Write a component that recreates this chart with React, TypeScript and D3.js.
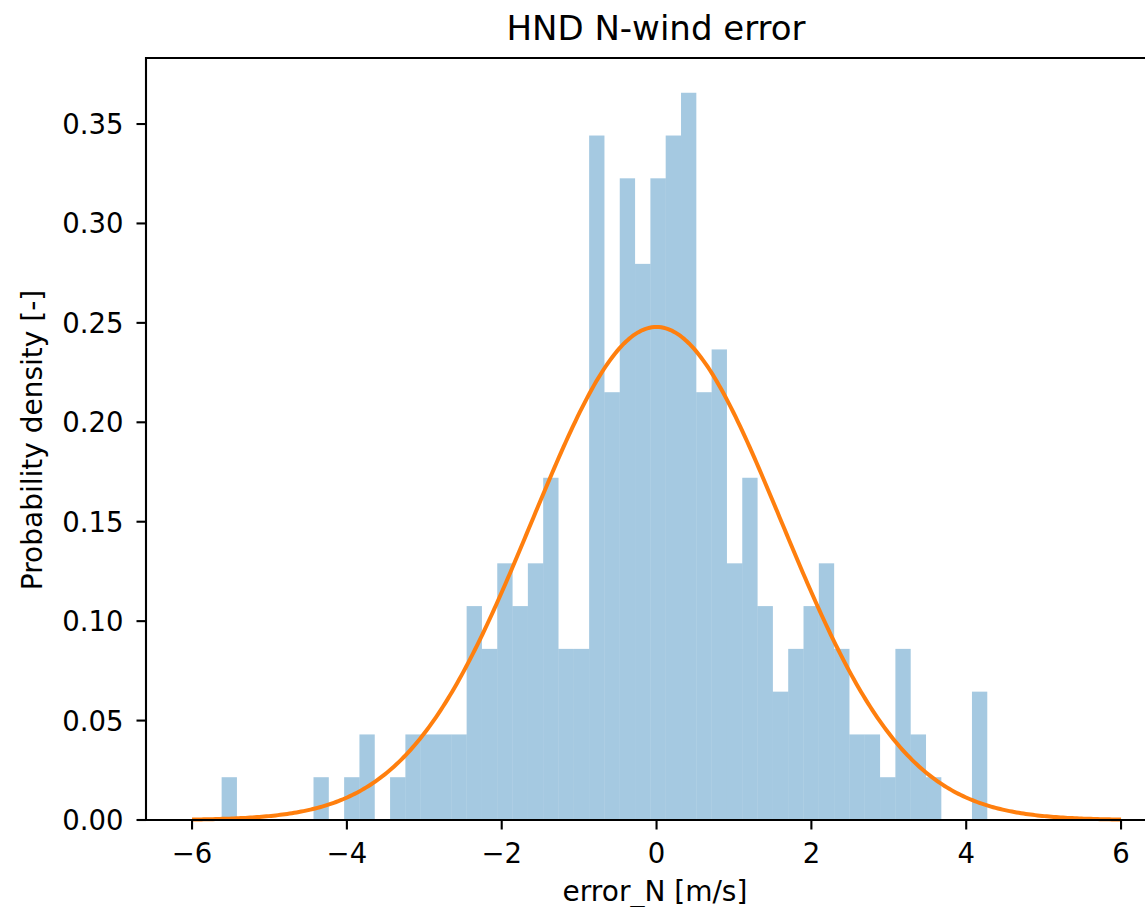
import React from "react";
import * as d3 from "d3";

// ---- data ----
const binStart = -5.618; // left edge of first bin [m/s]
const binWidth = 0.1978; // bin width [m/s]
const binCounts = [
  1, 0, 0, 0, 0, 0, 1, 0, 1, 2,
  0, 1, 2, 2, 2, 2, 5, 4, 6, 5,
  6, 8, 4, 4, 16, 10, 15, 13, 15, 16,
  17, 10, 11, 6, 8, 5, 3, 4, 5, 6,
  4, 2, 2, 1, 4, 2, 1, 0, 0, 3,
];
const fitMean = 0.0;
const fitStd = 1.609;
const curveRange = [-6, 6];
const xTicks = [-6, -4, -2, 0, 2, 4, 6];
const yTicks = [0, 0.05, 0.1, 0.15, 0.2, 0.25, 0.3, 0.35];
const title = "HND N-wind error";
const xLabel = "error_N [m/s]";
const yLabel = "Probability density [-]";

const W = 1145;
const H = 907;
const FONT = "'DejaVu Sans', sans-serif";

export default function App() {
  const x = d3.scaleLinear().domain([-6.6, 6.6]).range([145.6, 1167.5]);
  const y = d3.scaleLinear().domain([0, 0.3832]).range([820, 58]);

  const total = d3.sum(binCounts);
  const bins = binCounts.map((c, i) => ({
    x0: binStart + i * binWidth,
    x1: binStart + (i + 1) * binWidth,
    d: c / (total * binWidth),
  }));

  const nSamples = 400;
  const curvePts = d3.range(nSamples + 1).map((i) => {
    const xv = curveRange[0] + ((curveRange[1] - curveRange[0]) * i) / nSamples;
    const z = (xv - fitMean) / fitStd;
    return [xv, Math.exp(-0.5 * z * z) / (fitStd * Math.sqrt(2 * Math.PI))] as [number, number];
  });
  const line = d3
    .line<[number, number]>()
    .x((d) => x(d[0]))
    .y((d) => y(d[1]));

  const fmtY = d3.format(".2f");
  const fmtX = (v: number) => (v < 0 ? "\u2212" + Math.abs(v) : String(v));

  const left = 146;
  const top = 58;
  const bottom = 820;

  return (
    <svg
      width={W}
      height={H}
      style={{ position: "absolute", left: 0, top: 0, background: "#fff" }}
      fontFamily={FONT}
    >
      <rect x={0} y={0} width={W} height={H} fill="#fff" />
      <g>
        {bins
          .filter((b) => b.d > 0)
          .map((b, i) => (
            <rect
              key={i}
              x={x(b.x0)}
              y={y(b.d)}
              width={x(b.x1) - x(b.x0)}
              height={y(0) - y(b.d)}
              fill="#1f77b4"
              fillOpacity={0.4}
            />
          ))}
      </g>
      <path
        d={line(curvePts) || ""}
        fill="none"
        stroke="#ff7f0e"
        strokeWidth={4}
        strokeLinejoin="round"
        strokeLinecap="butt"
      />
      {/* spines */}
      <line x1={left} x2={W + 5} y1={top} y2={top} stroke="#000" strokeWidth={2.1} />
      <line x1={left} x2={W + 5} y1={bottom} y2={bottom} stroke="#000" strokeWidth={2.1} />
      <line x1={left} x2={left} y1={top - 1} y2={bottom + 1} stroke="#000" strokeWidth={2.1} />
      {/* x ticks */}
      {xTicks.map((t) => (
        <g key={"x" + t}>
          <line x1={x(t)} x2={x(t)} y1={bottom} y2={bottom + 9.5} stroke="#000" strokeWidth={2.1} />
          <text x={x(t)} y={863} textAnchor="middle" fontSize={27.5} fill="#000">
            {fmtX(t)}
          </text>
        </g>
      ))}
      {/* y ticks */}
      {yTicks.map((t) => (
        <g key={"y" + t}>
          <line x1={left - 9.5} x2={left} y1={y(t)} y2={y(t)} stroke="#000" strokeWidth={2.1} />
          <text x={123.5} y={y(t) + 10} textAnchor="end" fontSize={27.5} fill="#000">
            {fmtY(t)}
          </text>
        </g>
      ))}
      <text x={655} y={901} textAnchor="middle" fontSize={28} fill="#000">
        {xLabel}
      </text>
      <text
        transform={`translate(42, 440) rotate(-90)`}
        textAnchor="middle"
        fontSize={28}
        fill="#000"
      >
        {yLabel}
      </text>
      <text x={656} y={40} textAnchor="middle" fontSize={34} fill="#000">
        {title}
      </text>
    </svg>
  );
}
